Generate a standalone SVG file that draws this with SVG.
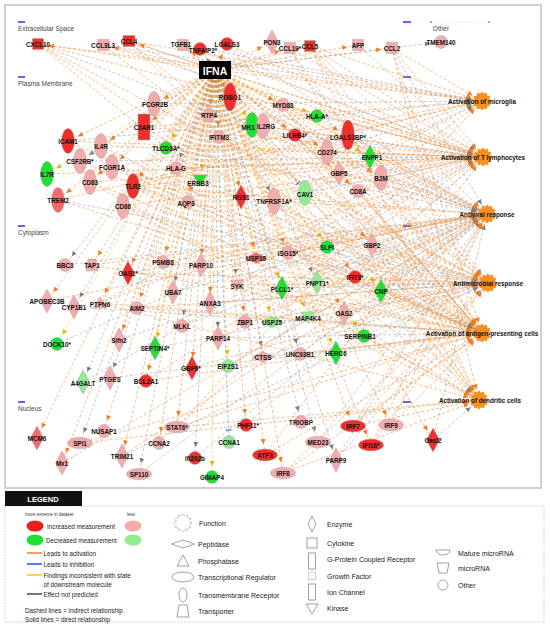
<svg xmlns="http://www.w3.org/2000/svg" width="550" height="625" viewBox="0 0 550 625">
<defs>
<style>
.e path{fill:none;stroke-width:.65;stroke-dasharray:3 2;stroke-opacity:.85}
.o{stroke:#f4862e;marker-end:url(#mo)}
.g{stroke:#9c9c9c;marker-end:url(#mg)}
.y{stroke:#efc21a;marker-end:url(#my)}
.b{stroke:#4b8fd9;marker-end:url(#mb)}
.nd text,.fn text{font-family:"Liberation Sans",Arial,sans-serif;font-size:6.3px;font-weight:bold;text-anchor:middle;dominant-baseline:central;fill:#111}
.nd circle,.nd ellipse,.nd rect,.nd use,.nd path{stroke:#a8a8a8;stroke-width:.5}
.r{fill:#ee2f2b}.m{fill:#f26b6b}.p{fill:#f5abab}.gr{fill:#1fe033}.lg{fill:#90ec90}
.sec{font-family:"Liberation Sans",Arial,sans-serif;font-size:6.5px;fill:#444}
.lt{font-family:"Liberation Sans",Arial,sans-serif;font-size:7px;fill:#222;dominant-baseline:central}
.lc{font-family:"Liberation Sans",Arial,sans-serif;font-size:6.3px;fill:#222;dominant-baseline:central}
.ls{fill:none;stroke:#8a8a8a;stroke-width:.8}
</style>
<marker id="mo" viewBox="0 0 16 6" refX="16" refY="3" markerWidth="16" markerHeight="6" markerUnits="userSpaceOnUse" orient="auto"><path d="M0 .5L5 3 0 5.5Z" fill="#f47b20"/></marker>
<marker id="mg" viewBox="0 0 16 6" refX="16" refY="3" markerWidth="16" markerHeight="6" markerUnits="userSpaceOnUse" orient="auto"><path d="M0 .5L5 3 0 5.5Z" fill="#7d7d7d"/></marker>
<marker id="my" viewBox="0 0 16 6" refX="16" refY="3" markerWidth="16" markerHeight="6" markerUnits="userSpaceOnUse" orient="auto"><path d="M0 .5L5 3 0 5.5Z" fill="#e8b800"/></marker>
<marker id="mb" viewBox="0 0 16 6" refX="16" refY="3" markerWidth="16" markerHeight="6" markerUnits="userSpaceOnUse" orient="auto"><path d="M4 0V6" stroke="#3a7bd5" stroke-width="1.2"/></marker>
<path id="dia" d="M0-12L6.5 0 0 12-6.5 0Z"/>
<path id="pep" d="M-11 0L0-5.5 11 0 0 5.5Z"/>
<path id="kin" d="M-7-5H7L0 6Z"/>
<path id="pho" d="M0-6L7 5H-7Z"/>
<path id="trp" d="M-4-6H4L6 6H-6Z"/>
<polygon id="gear" points="9,0 6.76,1.81 7.79,4.5 4.95,4.95 4.5,7.79 1.81,6.76 0,9 -1.81,6.76 -4.5,7.79 -4.95,4.95 -7.79,4.5 -6.76,1.81 -9,0 -6.76,-1.81 -7.79,-4.5 -4.95,-4.95 -4.5,-7.79 -1.81,-6.76 0,-9 1.81,-6.76 4.5,-7.79 4.95,-4.95 7.79,-4.5 6.76,-1.81"/>
</defs>
<rect width="550" height="625" fill="#fff"/>
<rect x="5" y="5" width="536" height="483" fill="#fff" stroke="#cfcfcf" stroke-width="2"/>
<g id="sections">
<path d="M18 22h7M18 77h7M18 226h7M18 402h7M403 22h8M403 77h8M403 226h8M403 402h8" stroke="#3030ff" stroke-width="1.3"/>
<path d="M431 22H489" stroke="#c8c8e8" stroke-width=".6" stroke-dasharray="1 1.5"/>
<circle cx="431" cy="22" r=".8" fill="#3030ff"/><circle cx="489" cy="22" r=".8" fill="#3030ff"/>
<text class="sec" x="18" y="31">Extracellular Space</text>
<text class="sec" x="18" y="86">Plasma Membrane</text>
<text class="sec" x="18" y="235">Cytoplasm</text>
<text class="sec" x="18" y="411">Nucleus</text>
<text class="sec" x="441" y="31" text-anchor="middle">Other</text>
</g>
<g id="connectors" class="e">
<path class="o" d="M215 70L38 44"/><path class="o" d="M215 70L103 45"/><path class="o" d="M215 70L129 41"/><path class="o" d="M215 70L183 45"/><path class="g" d="M215 70L200 49"/><path class="o" d="M215 70L227 44"/><path class="o" d="M215 70L272 42"/><path class="o" d="M215 70L290 48"/><path class="o" d="M215 70L310 46"/><path class="o" d="M215 70L358 45"/><path class="o" d="M215 70L392 48"/><path class="g" d="M215 70L441 42"/>
<path class="o" d="M215 70L154 104"/><path class="o" d="M215 70L144 127"/><path class="g" d="M215 70L230 97"/><path class="o" d="M215 70L283 105"/><path class="o" d="M215 70L209 115"/><path class="y" d="M215 70L317 116"/><path class="y" d="M215 70L252 125"/><path class="o" d="M215 70L263 126"/><path class="o" d="M215 70L295 135"/><path class="o" d="M215 70L348 135"/><path class="o" d="M215 70L68 141"/><path class="o" d="M215 70L101 146"/><path class="g" d="M215 70L80 161"/><path class="o" d="M215 70L112 167"/><path class="y" d="M215 70L47 174"/><path class="o" d="M215 70L90 182"/><path class="o" d="M215 70L133 186"/><path class="o" d="M215 70L58 200"/><path class="o" d="M215 70L123 206"/><path class="y" d="M215 70L166 148"/><path class="g" d="M215 70L176 168"/><path class="y" d="M215 70L200 180"/><path class="o" d="M215 70L188 202"/><path class="o" d="M215 70L219 137"/><path class="o" d="M215 70L241 197"/><path class="g" d="M215 70L274 201"/><path class="b" d="M215 70L305 193"/><path class="o" d="M215 70L327 152"/><path class="o" d="M215 70L339 173"/><path class="o" d="M215 70L358 191"/><path class="y" d="M215 70L370 157"/><path class="o" d="M215 70L381 178"/>
<path class="g" d="M215 70L65 265"/><path class="o" d="M215 70L92 265"/><path class="o" d="M215 70L128 273"/><path class="o" d="M215 70L163 262"/><path class="o" d="M215 70L201 265"/><path class="o" d="M215 70L256 258"/><path class="o" d="M215 70L288 253"/><path class="y" d="M215 70L327 247"/><path class="o" d="M215 70L372 245"/><path class="o" d="M215 70L355 277"/><path class="g" d="M215 70L317 282"/><path class="y" d="M215 70L282 288"/><path class="y" d="M215 70L381 291"/><path class="g" d="M215 70L237 285"/><path class="g" d="M215 70L173 292"/><path class="o" d="M215 70L47 301"/><path class="g" d="M215 70L74 307"/><path class="o" d="M215 70L100 303"/><path class="o" d="M215 70L137 308"/><path class="o" d="M215 70L210 303"/><path class="g" d="M215 70L182 326"/><path class="o" d="M215 70L245 322"/><path class="y" d="M215 70L272 322"/><path class="y" d="M215 70L308 317"/><path class="o" d="M215 70L344 313"/><path class="y" d="M215 70L362 336"/><path class="y" d="M215 70L57 344"/><path class="o" d="M215 70L119 340"/><path class="y" d="M215 70L155 348"/><path class="g" d="M215 70L218 338"/><path class="g" d="M215 70L263 357"/><path class="g" d="M215 70L300 354"/><path class="y" d="M215 70L336 353"/><path class="y" d="M215 70L228 366"/><path class="o" d="M215 70L192 368"/><path class="g" d="M215 70L83 382"/><path class="g" d="M215 70L110 378"/><path class="o" d="M215 70L146 381"/>
<path class="o" d="M215 70L37 438"/><path class="g" d="M215 70L80 443"/><path class="o" d="M215 70L62 463"/><path class="o" d="M215 70L104 431"/><path class="o" d="M215 70L122 456"/><path class="g" d="M215 70L139 474"/><path class="o" d="M215 70L159 443"/><path class="o" d="M215 70L177 427"/><path class="g" d="M215 70L195 458"/><path class="y" d="M215 70L212 477"/><path class="b" d="M215 70L229 442"/><path class="o" d="M215 70L246 425"/><path class="o" d="M215 70L265 455"/><path class="o" d="M215 70L283 473"/><path class="g" d="M215 70L301 422"/><path class="g" d="M215 70L318 442"/><path class="g" d="M215 70L336 460"/><path class="o" d="M215 70L353 426"/><path class="o" d="M215 70L371 445"/><path class="o" d="M215 70L391 425"/><path class="o" d="M215 70L433 440"/>
<path class="o" d="M215 70L482 101"/><path class="o" d="M215 70L483 157"/><path class="o" d="M215 70L487 214"/><path class="o" d="M215 70L488 283"/><path class="o" d="M215 70L482 333"/><path class="o" d="M215 70L479 400"/>
<path class="o" d="M38 44L482 101"/><path class="o" d="M38 44L483 157"/><path class="g" d="M38 44L487 214"/><path class="o" d="M38 44L488 283"/><path class="o" d="M38 44L482 333"/><path class="o" d="M38 44L479 400"/>
<path class="g" d="M103 45L482 101"/><path class="o" d="M103 45L483 157"/><path class="o" d="M103 45L482 333"/>
<path class="o" d="M129 41L482 101"/><path class="o" d="M129 41L483 157"/><path class="g" d="M129 41L487 214"/><path class="o" d="M129 41L482 333"/><path class="o" d="M129 41L479 400"/>
<path class="g" d="M183 45L482 101"/><path class="o" d="M183 45L483 157"/><path class="o" d="M183 45L482 333"/><path class="o" d="M183 45L479 400"/>
<path class="g" d="M200 49L483 157"/>
<path class="o" d="M227 44L483 157"/><path class="g" d="M227 44L487 214"/><path class="o" d="M227 44L482 333"/>
<path class="g" d="M272 42L488 283"/>
<path class="o" d="M290 48L483 157"/><path class="o" d="M290 48L482 333"/><path class="o" d="M290 48L479 400"/>
<path class="o" d="M310 46L482 101"/><path class="o" d="M310 46L483 157"/><path class="o" d="M310 46L487 214"/><path class="o" d="M310 46L488 283"/><path class="o" d="M310 46L482 333"/><path class="o" d="M310 46L479 400"/>
<path class="g" d="M358 45L483 157"/>
<path class="o" d="M392 48L482 101"/><path class="o" d="M392 48L483 157"/><path class="g" d="M392 48L487 214"/><path class="o" d="M392 48L482 333"/><path class="o" d="M392 48L479 400"/>
<path class="g" d="M154 104L482 101"/><path class="o" d="M154 104L482 333"/>
<path class="o" d="M144 127L482 101"/><path class="o" d="M144 127L483 157"/><path class="o" d="M144 127L482 333"/>
<path class="g" d="M230 97L487 214"/>
<path class="o" d="M283 105L483 157"/><path class="o" d="M283 105L487 214"/><path class="o" d="M283 105L488 283"/><path class="o" d="M283 105L482 333"/><path class="o" d="M283 105L479 400"/>
<path class="o" d="M209 115L487 214"/>
<path class="g" d="M317 116L483 157"/><path class="g" d="M317 116L487 214"/>
<path class="o" d="M252 125L483 157"/><path class="g" d="M252 125L482 333"/>
<path class="o" d="M263 126L483 157"/><path class="o" d="M263 126L487 214"/>
<path class="g" d="M295 135L483 157"/><path class="o" d="M295 135L482 333"/><path class="o" d="M295 135L479 400"/>
<path class="o" d="M348 135L487 214"/><path class="o" d="M348 135L488 283"/>
<path class="g" d="M68 141L482 101"/><path class="o" d="M68 141L483 157"/><path class="o" d="M68 141L482 333"/>
<path class="o" d="M101 146L483 157"/><path class="o" d="M101 146L482 333"/>
<path class="g" d="M80 161L483 157"/><path class="o" d="M80 161L482 333"/>
<path class="o" d="M112 167L482 101"/><path class="o" d="M112 167L488 283"/><path class="o" d="M112 167L482 333"/>
<path class="o" d="M47 174L483 157"/>
<path class="o" d="M90 182L483 157"/><path class="o" d="M90 182L482 333"/><path class="o" d="M90 182L479 400"/>
<path class="o" d="M133 186L482 101"/><path class="o" d="M133 186L483 157"/><path class="o" d="M133 186L487 214"/><path class="o" d="M133 186L488 283"/><path class="o" d="M133 186L482 333"/><path class="o" d="M133 186L479 400"/>
<path class="o" d="M58 200L482 101"/><path class="g" d="M58 200L488 283"/><path class="o" d="M58 200L482 333"/>
<path class="o" d="M123 206L483 157"/><path class="o" d="M123 206L482 333"/><path class="o" d="M123 206L479 400"/>
<path class="g" d="M166 148L487 214"/><path class="o" d="M176 168L483 157"/><path class="g" d="M200 180L488 283"/><path class="g" d="M188 202L482 333"/>
<path class="o" d="M219 137L487 214"/><path class="o" d="M219 137L488 283"/>
<path class="o" d="M241 197L483 157"/><path class="g" d="M241 197L482 333"/>
<path class="o" d="M274 201L482 101"/><path class="o" d="M274 201L487 214"/><path class="o" d="M274 201L482 333"/><path class="g" d="M274 201L479 400"/>
<path class="g" d="M305 193L483 157"/><path class="o" d="M305 193L488 283"/>
<path class="g" d="M327 152L482 101"/><path class="o" d="M327 152L483 157"/><path class="o" d="M327 152L482 333"/>
<path class="g" d="M339 173L487 214"/><path class="o" d="M339 173L488 283"/>
<path class="o" d="M358 191L483 157"/><path class="o" d="M358 191L482 333"/>
<path class="g" d="M370 157L483 157"/>
<path class="o" d="M381 178L483 157"/><path class="g" d="M381 178L487 214"/><path class="o" d="M381 178L482 333"/>
<path class="g" d="M65 265L487 214"/>
<path class="o" d="M92 265L487 214"/><path class="o" d="M92 265L482 333"/>
<path class="o" d="M128 273L487 214"/><path class="o" d="M128 273L488 283"/>
<path class="o" d="M163 262L487 214"/><path class="o" d="M163 262L482 333"/>
<path class="g" d="M201 265L487 214"/>
<path class="o" d="M256 258L487 214"/><path class="g" d="M256 258L488 283"/>
<path class="o" d="M288 253L487 214"/><path class="o" d="M288 253L488 283"/><path class="o" d="M288 253L482 333"/>
<path class="g" d="M327 247L488 283"/><path class="g" d="M327 247L482 333"/>
<path class="o" d="M372 245L487 214"/><path class="o" d="M372 245L488 283"/>
<path class="o" d="M355 277L487 214"/><path class="o" d="M355 277L488 283"/>
<path class="g" d="M317 282L487 214"/><path class="g" d="M282 288L488 283"/><path class="g" d="M381 291L487 214"/>
<path class="o" d="M237 285L482 101"/><path class="o" d="M237 285L483 157"/><path class="o" d="M237 285L488 283"/><path class="o" d="M237 285L482 333"/><path class="o" d="M237 285L479 400"/>
<path class="g" d="M173 292L487 214"/><path class="o" d="M47 301L487 214"/><path class="g" d="M74 307L482 333"/>
<path class="g" d="M100 303L482 101"/><path class="o" d="M100 303L483 157"/><path class="o" d="M100 303L482 333"/><path class="o" d="M100 303L479 400"/>
<path class="o" d="M137 308L488 283"/><path class="o" d="M137 308L482 333"/>
<path class="g" d="M210 303L488 283"/><path class="g" d="M182 326L487 214"/>
<path class="o" d="M245 322L487 214"/><path class="o" d="M245 322L488 283"/>
<path class="g" d="M272 322L487 214"/><path class="g" d="M308 317L483 157"/>
<path class="o" d="M344 313L487 214"/><path class="o" d="M344 313L488 283"/>
<path class="g" d="M362 336L488 283"/><path class="g" d="M57 344L483 157"/><path class="g" d="M119 340L487 214"/><path class="g" d="M155 348L488 283"/>
<path class="o" d="M218 338L487 214"/><path class="g" d="M218 338L482 333"/>
<path class="g" d="M263 357L488 283"/><path class="o" d="M263 357L482 333"/>
<path class="o" d="M300 354L487 214"/><path class="o" d="M300 354L482 333"/>
<path class="g" d="M336 353L487 214"/><path class="g" d="M228 366L487 214"/><path class="o" d="M192 368L488 283"/><path class="g" d="M83 382L483 157"/><path class="g" d="M110 378L482 333"/>
<path class="o" d="M146 381L483 157"/><path class="o" d="M146 381L482 333"/>
<path class="o" d="M80 443L482 333"/><path class="o" d="M80 443L479 400"/>
<path class="o" d="M62 463L487 214"/>
<path class="o" d="M122 456L487 214"/><path class="g" d="M122 456L488 283"/>
<path class="g" d="M139 474L487 214"/>
<path class="o" d="M177 427L482 101"/><path class="o" d="M177 427L483 157"/><path class="o" d="M177 427L482 333"/><path class="o" d="M177 427L479 400"/>
<path class="g" d="M195 458L487 214"/><path class="o" d="M246 425L487 214"/>
<path class="o" d="M265 455L483 157"/><path class="o" d="M265 455L482 333"/>
<path class="o" d="M283 473L488 283"/><path class="o" d="M283 473L482 333"/><path class="o" d="M283 473L479 400"/>
<path class="g" d="M318 442L487 214"/>
<path class="g" d="M336 460L487 214"/><path class="g" d="M336 460L488 283"/>
<path class="o" d="M353 426L487 214"/><path class="o" d="M353 426L488 283"/><path class="o" d="M353 426L482 333"/><path class="o" d="M353 426L479 400"/>
<path class="o" d="M371 445L487 214"/><path class="o" d="M371 445L488 283"/>
<path class="o" d="M391 425L487 214"/><path class="o" d="M391 425L482 333"/>
<path class="g" d="M433 440L487 214"/><path class="g" d="M433 440L479 400"/>
</g>
<g id="nodes">
<g id="n-CXCL10" class="nd"><rect class="r" x="32.5" y="38.5" width="11" height="11"/><text x="38" y="44">CXCL10</text></g>
<g id="n-CCL3L3" class="nd"><rect class="p" x="97.5" y="39.5" width="12" height="11"/><text x="103" y="45">CCL3L3</text></g>
<g id="n-CCL4" class="nd"><rect class="r" x="123" y="35.5" width="12" height="11"/><text x="129" y="41">CCL4</text></g>
<g id="n-TGFB1" class="nd"><rect class="p" x="177.5" y="39.5" width="11" height="11"/><text x="181" y="44">TGFB1</text></g>
<g id="n-TNFAIP2" class="nd"><circle class="r" cx="200" cy="49" r="6.5"/><text x="203" y="50">TNFAIP2*</text></g>
<g id="n-LGALS3" class="nd"><circle class="r" cx="227" cy="44" r="6.5"/><text x="227" y="44">LGALS3</text></g>
<g id="n-PON3" class="nd"><use href="#dia" class="p" x="272" y="42"/><text x="272" y="42">PON3</text></g>
<g id="n-CCL19" class="nd"><rect class="p" x="284.5" y="42.5" width="11" height="11"/><text x="290" y="48">CCL19*</text></g>
<g id="n-CCL5" class="nd"><rect class="r" x="304.5" y="40.5" width="11" height="11"/><text x="310" y="46">CCL5</text></g>
<g id="n-AFP" class="nd"><rect class="p" x="352.5" y="39.5" width="11" height="11"/><text x="358" y="45">AFP</text></g>
<g id="n-CCL2" class="nd"><rect class="p" x="386.5" y="42.5" width="11" height="11"/><text x="392" y="48">CCL2</text></g>
<g id="n-TMEM140" class="nd"><circle class="p" cx="441" cy="42" r="6.5"/><text x="441" y="42">TMEM140</text></g>
<g id="n-FCGR2B" class="nd"><ellipse class="p" cx="154" cy="104" rx="6.5" ry="12.5"/><text x="155" y="104">FCGR2B</text></g>
<g id="n-C3AR1" class="nd"><rect class="r" x="138" y="114" width="12" height="26"/><text x="144" y="127">C3AR1</text></g>
<g id="n-ROBO1" class="nd"><ellipse class="r" cx="230" cy="97" rx="6.5" ry="14"/><text x="230" y="97">ROBO1</text></g>
<g id="n-MYD88" class="nd"><circle class="p" cx="283" cy="105" r="6.5"/><text x="283" y="105">MYD88</text></g>
<g id="n-RTP4" class="nd"><circle class="p" cx="209" cy="115" r="6.5"/><text x="209" y="115">RTP4</text></g>
<g id="n-HLA-A" class="nd"><circle class="gr" cx="317" cy="116" r="6.5"/><text x="317" y="116">HLA-A*</text></g>
<g id="n-MR1" class="nd"><ellipse class="gr" cx="252" cy="125" rx="6.5" ry="12.5"/><text x="248" y="127">MR1</text></g>
<g id="n-IL2RG" class="nd"><ellipse class="p" cx="263" cy="126" rx="6.5" ry="12.5"/><text x="266" y="126">IL2RG</text></g>
<g id="n-LILRB4" class="nd"><circle class="r" cx="295" cy="135" r="6.5"/><text x="295" y="135">LILRB4*</text></g>
<g id="n-LGALS3BP" class="nd"><ellipse class="r" cx="348" cy="135" rx="6.5" ry="15"/><text x="348" y="137">LGALS3BP*</text></g>
<g id="n-ICAM1" class="nd"><ellipse class="r" cx="68" cy="141" rx="6.5" ry="12.5"/><text x="68" y="141">ICAM1</text></g>
<g id="n-IL4R" class="nd"><ellipse class="p" cx="101" cy="146" rx="6.5" ry="12.5"/><text x="101" y="146">IL4R</text></g>
<g id="n-CSF2RB" class="nd"><ellipse class="p" cx="80" cy="161" rx="6.5" ry="12.5"/><text x="80" y="161">CSF2RB*</text></g>
<g id="n-FCGR1A" class="nd"><ellipse class="p" cx="112" cy="167" rx="6.5" ry="12.5"/><text x="112" y="167">FCGR1A</text></g>
<g id="n-IL7R" class="nd"><ellipse class="gr" cx="47" cy="174" rx="6.5" ry="12.5"/><text x="47" y="174">IL7R</text></g>
<g id="n-CD83" class="nd"><ellipse class="p" cx="90" cy="182" rx="6.5" ry="12.5"/><text x="90" y="182">CD83</text></g>
<g id="n-TLR2" class="nd"><ellipse class="r" cx="133" cy="186" rx="6.5" ry="12.5"/><text x="133" y="186">TLR2</text></g>
<g id="n-TREM2" class="nd"><ellipse class="m" cx="58" cy="200" rx="6.5" ry="12.5"/><text x="58" y="200">TREM2</text></g>
<g id="n-CD86" class="nd"><ellipse class="p" cx="123" cy="206" rx="6.5" ry="12.5"/><text x="123" y="206">CD86</text></g>
<g id="n-TLCD3A" class="nd"><circle class="gr" cx="166" cy="148" r="6.5"/><text x="166" y="148">TLCD3A*</text></g>
<g id="n-HLA-G" class="nd"><circle class="p" cx="176" cy="168" r="6.5"/><text x="176" y="168">HLA-G</text></g>
<g id="n-ERBB3" class="nd"><use href="#kin" class="gr" x="200" y="180"/><text x="198" y="183">ERBB3</text></g>
<g id="n-AQP3" class="nd"><circle class="p" cx="188" cy="202" r="6.5"/><text x="186" y="203">AQP3</text></g>
<g id="n-IFITM3" class="nd"><circle class="p" cx="219" cy="137" r="6.5"/><text x="219" y="137">IFITM3</text></g>
<g id="n-RGS1" class="nd"><use href="#dia" class="r" x="241" y="197"/><text x="241" y="197">RGS1</text></g>
<g id="n-TNFRSF1A" class="nd"><ellipse class="p" cx="274" cy="201" rx="6.5" ry="13"/><text x="274" y="201">TNFRSF1A*</text></g>
<g id="n-CAV1" class="nd"><ellipse class="lg" cx="305" cy="193" rx="6.5" ry="12.5"/><text x="305" y="194">CAV1</text></g>
<g id="n-CD274" class="nd"><ellipse class="p" cx="327" cy="152" rx="6.5" ry="12.5"/><text x="327" y="152">CD274</text></g>
<g id="n-GBP5" class="nd"><use href="#dia" class="p" x="339" y="173"/><text x="339" y="173">GBP5</text></g>
<g id="n-CD8A" class="nd"><circle class="p" cx="358" cy="191" r="6.5"/><text x="358" y="191">CD8A</text></g>
<g id="n-ENPP1" class="nd"><use href="#dia" class="gr" x="370" y="157"/><text x="372" y="157">ENPP1</text></g>
<g id="n-B2M" class="nd"><ellipse class="p" cx="381" cy="178" rx="6.5" ry="12.5"/><text x="381" y="178">B2M</text></g>
<g id="n-BBC3" class="nd"><circle class="p" cx="65" cy="265" r="6.5"/><text x="65" y="265">BBC3</text></g>
<g id="n-TAP1" class="nd"><use href="#trp" class="p" x="92" y="265"/><text x="92" y="265">TAP1</text></g>
<g id="n-OAS1" class="nd"><use href="#dia" class="r" x="128" y="273"/><text x="128" y="273">OAS1*</text></g>
<g id="n-PSMB8" class="nd"><circle class="p" cx="163" cy="262" r="6.5"/><text x="163" y="262">PSMB8</text></g>
<g id="n-PARP10" class="nd"><use href="#dia" class="p" x="201" y="265"/><text x="201" y="265">PARP10</text></g>
<g id="n-USP18" class="nd"><use href="#pep" class="m" x="256" y="258"/><text x="256" y="258">USP18</text></g>
<g id="n-ISG15" class="nd"><circle class="p" cx="288" cy="253" r="6.5"/><text x="288" y="253">ISG15*</text></g>
<g id="n-SLPI" class="nd"><circle class="gr" cx="327" cy="247" r="6.5"/><text x="327" y="247">SLPI</text></g>
<g id="n-GBP2" class="nd"><use href="#dia" class="p" x="372" y="245"/><text x="372" y="245">GBP2</text></g>
<g id="n-IFIT3" class="nd"><circle class="r" cx="355" cy="277" r="6.5"/><text x="355" y="277">IFIT3*</text></g>
<g id="n-PNPT1" class="nd"><use href="#dia" class="lg" x="317" y="282"/><text x="317" y="283">PNPT1*</text></g>
<g id="n-PLCL1" class="nd"><use href="#dia" class="gr" x="282" y="288"/><text x="282" y="289">PLCL1*</text></g>
<g id="n-CNP" class="nd"><use href="#dia" class="gr" x="381" y="291"/><text x="381" y="291">CNP</text></g>
<g id="n-SYK" class="nd"><use href="#kin" class="p" x="237" y="285"/><text x="237" y="286">SYK</text></g>
<g id="n-UBA7" class="nd"><use href="#dia" class="p" x="173" y="292"/><text x="173" y="292">UBA7</text></g>
<g id="n-APOBEC3B" class="nd"><use href="#dia" class="p" x="47" y="301"/><text x="47" y="301">APOBEC3B</text></g>
<g id="n-CYP1B1" class="nd"><use href="#dia" class="p" x="74" y="307"/><text x="74" y="307">CYP1B1</text></g>
<g id="n-PTPN6" class="nd"><use href="#pho" class="p" x="100" y="303"/><text x="100" y="304">PTPN6</text></g>
<g id="n-AIM2" class="nd"><circle class="p" cx="137" cy="308" r="6.5"/><text x="137" y="308">AIM2</text></g>
<g id="n-ANXA3" class="nd"><use href="#dia" class="p" x="210" y="303"/><text x="210" y="303">ANXA3</text></g>
<g id="n-MLKL" class="nd"><circle class="p" cx="182" cy="326" r="6.5"/><text x="182" y="326">MLKL</text></g>
<g id="n-ZBP1" class="nd"><circle class="p" cx="245" cy="322" r="6.5"/><text x="245" y="322">ZBP1</text></g>
<g id="n-USP25" class="nd"><use href="#pep" class="lg" x="272" y="322"/><text x="272" y="322">USP25</text></g>
<g id="n-MAP4K4" class="nd"><use href="#kin" class="lg" x="308" y="317"/><text x="308" y="318">MAP4K4</text></g>
<g id="n-OAS2" class="nd"><use href="#dia" class="p" x="344" y="313"/><text x="344" y="313">OAS2</text></g>
<g id="n-SERPINB1" class="nd"><circle class="gr" cx="364" cy="336" r="6.5"/><text x="360" y="336">SERPINB1</text></g>
<g id="n-DOCK10" class="nd"><circle class="gr" cx="57" cy="344" r="6.5"/><text x="57" y="344">DOCK10*</text></g>
<g id="n-Slfn2" class="nd"><use href="#dia" class="p" x="119" y="340"/><text x="119" y="340">Slfn2</text></g>
<g id="n-SEPTIN4" class="nd"><use href="#dia" class="gr" x="155" y="348"/><text x="155" y="348">SEPTIN4*</text></g>
<g id="n-PARP14" class="nd"><use href="#dia" class="p" x="218" y="338"/><text x="218" y="338">PARP14</text></g>
<g id="n-CTSS" class="nd"><use href="#pep" class="p" x="263" y="357"/><text x="263" y="357">CTSS</text></g>
<g id="n-UNC93B1" class="nd"><circle class="p" cx="300" cy="354" r="6.5"/><text x="300" y="354">UNC93B1</text></g>
<g id="n-HERC6" class="nd"><use href="#dia" class="gr" x="336" y="353"/><text x="336" y="353">HERC6</text></g>
<g id="n-EIF2S1" class="nd"><circle class="lg" cx="228" cy="366" r="6.5"/><text x="228" y="366">EIF2S1</text></g>
<g id="n-GBP6" class="nd"><use href="#dia" class="r" x="192" y="368"/><text x="191" y="368">GBP6*</text></g>
<g id="n-A4GALT" class="nd"><use href="#dia" class="lg" x="83" y="382"/><text x="83" y="383">A4GALT</text></g>
<g id="n-PTGES" class="nd"><use href="#dia" class="p" x="110" y="378"/><text x="110" y="379">PTGES</text></g>
<g id="n-BCL2A1" class="nd"><circle class="r" cx="146" cy="381" r="6.5"/><text x="146" y="381">BCL2A1</text></g>
<g id="n-MCM6" class="nd"><use href="#dia" class="m" x="37" y="438"/><text x="37" y="438">MCM6</text></g>
<g id="n-SPI1" class="nd"><ellipse class="p" cx="80" cy="443" rx="12.5" ry="5.8"/><text x="80" y="443">SPI1</text></g>
<g id="n-Mx1" class="nd"><use href="#dia" class="p" x="62" y="463"/><text x="62" y="463">Mx1</text></g>
<g id="n-NUSAP1" class="nd"><circle class="p" cx="104" cy="431" r="6.5"/><text x="104" y="431">NUSAP1</text></g>
<g id="n-TRIM21" class="nd"><use href="#dia" class="p" x="122" y="456"/><text x="122" y="456">TRIM21</text></g>
<g id="n-SP110" class="nd"><ellipse class="p" cx="139" cy="474" rx="12.5" ry="5.8"/><text x="139" y="474">SP110</text></g>
<g id="n-CCNA2" class="nd"><circle class="p" cx="159" cy="443" r="6.5"/><text x="159" y="443">CCNA2</text></g>
<g id="n-STAT6" class="nd"><ellipse class="p" cx="177" cy="427" rx="12.5" ry="5.8"/><text x="177" y="427">STAT6*</text></g>
<g id="n-Ifi202b" class="nd"><circle class="r" cx="195" cy="458" r="6.5"/><text x="195" y="458">Ifi202b</text></g>
<g id="n-GIMAP4" class="nd"><circle class="gr" cx="212" cy="477" r="6.5"/><text x="212" y="477">GIMAP4</text></g>
<g id="n-CCNA1" class="nd"><circle class="lg" cx="229" cy="442" r="6.5"/><text x="229" y="442">CCNA1</text></g>
<g id="n-PHF11" class="nd"><circle class="r" cx="246" cy="425" r="6.5"/><text x="248" y="425">PHF11*</text></g>
<g id="n-ATF3" class="nd"><ellipse class="r" cx="265" cy="455" rx="12.5" ry="6"/><text x="265" y="455">ATF3</text></g>
<g id="n-IRF8" class="nd"><ellipse class="p" cx="283" cy="473" rx="12.5" ry="5.8"/><text x="283" y="473">IRF8</text></g>
<g id="n-TRIOBP" class="nd"><circle class="p" cx="301" cy="422" r="6.5"/><text x="301" y="422">TRIOBP</text></g>
<g id="n-MED23" class="nd"><ellipse class="p" cx="318" cy="442" rx="12.5" ry="5.8"/><text x="318" y="442">MED23</text></g>
<g id="n-PARP9" class="nd"><use href="#dia" class="p" x="336" y="460"/><text x="336" y="460">PARP9</text></g>
<g id="n-IRF7" class="nd"><ellipse class="r" cx="353" cy="426" rx="12.5" ry="6"/><text x="353" y="426">IRF7</text></g>
<g id="n-IFI16" class="nd"><ellipse class="r" cx="371" cy="445" rx="12.5" ry="6"/><text x="371" y="445">IFI16*</text></g>
<g id="n-IRF9" class="nd"><ellipse class="p" cx="391" cy="425" rx="12.5" ry="6"/><text x="391" y="425">IRF9</text></g>
<g id="n-Oasl2" class="nd"><use href="#dia" class="r" x="433" y="440"/><text x="433" y="440">Oasl2</text></g>
<g id="n-IFNA"><rect x="199" y="61" width="32" height="18" fill="#000"/><text x="215" y="70.5" font-family="Liberation Sans, Arial, sans-serif" font-size="10.5" font-weight="bold" fill="#fff" text-anchor="middle" dominant-baseline="central">IFNA</text></g>
</g>
<g id="functions">
<g id="f-microglia" class="fn"><use href="#gear" x="482" y="101" fill="#f7901e" stroke="#f7901e" stroke-linejoin="round"/><text x="482" y="101">Activation of microglia</text></g>
<g id="f-tlymph" class="fn"><use href="#gear" x="483" y="157" fill="#f7901e" stroke="#f7901e" stroke-linejoin="round"/><text x="483" y="157">Activation of T lymphocytes</text></g>
<g id="f-antiviral" class="fn"><use href="#gear" x="487" y="214" fill="#f7901e" stroke="#f7901e" stroke-linejoin="round"/><text x="487" y="214">Antiviral response</text></g>
<g id="f-antimicrobial" class="fn"><use href="#gear" x="488" y="283" fill="#f7901e" stroke="#f7901e" stroke-linejoin="round"/><text x="488" y="283">Antimicrobial response</text></g>
<g id="f-apc" class="fn"><use href="#gear" x="482" y="333" fill="#f7901e" stroke="#f7901e" stroke-linejoin="round"/><text x="482" y="333">Activation of antigen-presenting cells</text></g>
<g id="f-dendritic" class="fn"><use href="#gear" x="479" y="400" fill="#f7901e" stroke="#f7901e" stroke-linejoin="round"/><text x="480" y="400">Activation of dendritic cells</text></g>
</g>
<g id="legend">
<rect x="5" y="506" width="539" height="116" fill="none" stroke="#bbb" stroke-width=".8" stroke-dasharray="1.5 1.5"/>
<rect x="5" y="491" width="77" height="15" fill="#111"/>
<text x="43" y="499" font-family="Liberation Sans, Arial, sans-serif" font-size="7.5" font-weight="bold" fill="#fff" text-anchor="middle" dominant-baseline="central">LEGEND</text>
<text x="25" y="514" font-family="Liberation Sans, Arial, sans-serif" font-size="4.5" fill="#333" dominant-baseline="central">more extreme in dataset</text>
<text x="131" y="514" font-family="Liberation Sans, Arial, sans-serif" font-size="4.5" fill="#333" text-anchor="middle" dominant-baseline="central">less</text>
<ellipse cx="35" cy="526" rx="8.5" ry="5.5" fill="#ee1c1c"/><ellipse cx="133" cy="526" rx="8.5" ry="5.5" fill="#f5abab"/>
<ellipse cx="35" cy="540" rx="8.5" ry="5.5" fill="#1fe033"/><ellipse cx="133" cy="540" rx="8.5" ry="5.5" fill="#90ec90"/>
<text class="lc" x="47" y="526">Increased measurement</text>
<text class="lc" x="46" y="540">Decreased measurement</text>
<path d="M27 553h15" stroke="#f47b20" stroke-width="1.5"/><text class="lc" x="43.5" y="553">Leads to activation</text>
<path d="M27 564h15" stroke="#1a4fff" stroke-width="1.5"/><text class="lc" x="43.5" y="564">Leads to inhibition</text>
<path d="M27 575h15" stroke="#f2c811" stroke-width="1.5"/><text class="lc" x="43.5" y="575">Findings inconsistent with state</text><text class="lc" x="43.5" y="584">of downstream molecule</text>
<path d="M27 594h15" stroke="#444" stroke-width="1.5"/><text class="lc" x="43.5" y="594">Effect not predicted</text>
<text class="lc" x="25" y="610">Dashed lines = indirect relationship</text>
<text class="lc" x="25" y="619">Solid lines = direct relationship</text>
<use href="#gear" x="183" y="523" class="ls" stroke-dasharray="1.2 1" stroke-linejoin="round"/><text class="lt" x="199" y="523">Function</text>
<path class="ls" d="M171.5 544L183 540 194.5 544 183 548Z"/><text class="lt" x="198" y="544">Peptidase</text>
<path class="ls" d="M183 555L189 566H177Z"/><text class="lt" x="198" y="561">Phosphatase</text>
<ellipse class="ls" cx="183" cy="577" rx="11" ry="5"/><text class="lt" x="198" y="577">Transcriptional Regulator</text>
<ellipse class="ls" cx="183" cy="595" rx="4" ry="7"/><text class="lt" x="198" y="595">Transmembrane Receptor</text>
<path class="ls" d="M179 605H187L189 617H177Z"/><text class="lt" x="198" y="611">Transporter</text>
<path class="ls" d="M312 516L316 524 312 532 308 524Z"/><text class="lt" x="327" y="524">Enzyme</text>
<rect class="ls" x="307" y="538" width="10" height="10"/><text class="lt" x="327" y="543">Cytokine</text>
<rect class="ls" x="308.5" y="553" width="7" height="16"/><text class="lt" x="327" y="559">G-Protein Coupled Receptor</text>
<rect class="ls" x="308.5" y="572.5" width="7" height="7" stroke-dasharray="1 1"/><text class="lt" x="327" y="576">Growth Factor</text>
<rect class="ls" x="308.5" y="584" width="7" height="16"/><text class="lt" x="327" y="592">Ion Channel</text>
<path class="ls" d="M306 604H318L312 614Z"/><text class="lt" x="327" y="608">Kinase</text>
<path class="ls" d="M436 550H450A7 5 0 0 1 436 550Z"/><text class="lt" x="458" y="553">Mature microRNA</text>
<path class="ls" d="M437 563H449L447 573H439Z"/><text class="lt" x="458" y="568">microRNA</text>
<circle class="ls" cx="443" cy="585" r="5"/><text class="lt" x="458" y="585">Other</text>
</g>
</svg>
